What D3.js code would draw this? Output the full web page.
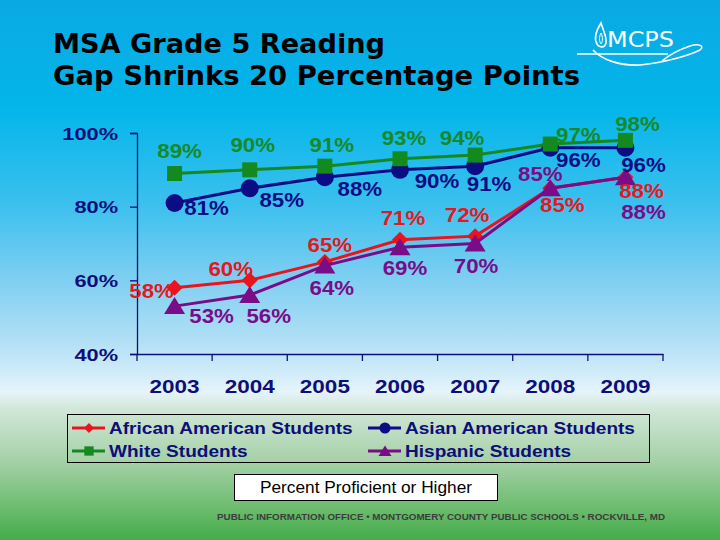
<!DOCTYPE html>
<html>
<head>
<meta charset="utf-8">
<script src="https://cdn.jsdelivr.net/npm/d3@7/dist/d3.min.js"></script>
<style>
  html, body { margin: 0; padding: 0; background: #fff; }
  svg { display: block; }
</style>
</head>
<body>
<svg id="chart" width="720" height="540"></svg>
<script>
// ---------------- DATA ----------------
const years = ["2003", "2004", "2005", "2006", "2007", "2008", "2009"];
const africanAmerican = [58, 60, 65, 71, 72, 85, 88];
const asianAmerican   = [81, 85, 88, 90, 91, 96, 96];
const whiteStudents   = [89, 90, 91, 93, 94, 97, 98];
const hispanic        = [53, 56, 64, 69, 70, 85, 88];
const yTickValues = [40, 60, 80, 100];
const seriesNames = ["African American Students", "Asian American Students", "White Students", "Hispanic Students"];
const titleLines = ["MSA Grade 5 Reading", "Gap Shrinks 20 Percentage Points"];
const noteText = "Percent Proficient or Higher";
const footerText = "PUBLIC INFORMATION OFFICE \u2022 MONTGOMERY COUNTY PUBLIC SCHOOLS \u2022 ROCKVILLE, MD";

// ---------------- LAYOUT / STYLE ----------------
const W = 720, H = 540;
const plot = { left: 137, right: 663, top: 133, bottom: 354 };
const navy = "#0e0e78";
const styles = [
  { color: "#e8141e", label: "#e41820", symbol: "diamond" },
  { color: "#0c0c84", label: "#0c0c84", symbol: "circle" },
  { color: "#148a1e", label: "#168a26", symbol: "square" },
  { color: "#7a0c88", label: "#7a0c88", symbol: "triangle" }
];
// per-point label offsets (dx, dy of baseline-centre relative to the marker)
const labelOffsets = [
  [[-23, 10], [-19, -4], [5, -10], [3, -15], [-8, -14], [12, 24], [16, 21]],
  [[32, 12], [32, 19], [35, 19], [37, 18], [14, 25], [28, 19], [18, 24]],
  [[5, -16], [3, -18], [7, -14], [4, -14], [-13, -10], [28, -2], [12, -9]],
  [[37, 17], [19, 28], [7, 29], [5, 28], [1, 29], [-10, -7], [18, 42]]
];

const svg = d3.select("#chart");

// background gradient
const defs = svg.append("defs");
const grad = defs.append("linearGradient").attr("id", "bg")
  .attr("x1", 0).attr("y1", 0).attr("x2", 0).attr("y2", 1);
[[0, "#0aa9e4"], [0.2, "#03b6ea"], [0.38, "#3cc0ee"], [0.52, "#80cff2"],
 [0.64, "#b6e1f6"], [0.7, "#d6eefa"], [0.725, "#e6f4fb"], [0.76, "#d0e6d6"],
 [0.86, "#a2cfa4"], [0.94, "#6cbc6e"], [1, "#45ab4a"]]
  .forEach(([o, c]) => grad.append("stop").attr("offset", o).attr("stop-color", c));
svg.append("rect").attr("width", W).attr("height", H).attr("fill", "url(#bg)");

// helper to stretch text horizontally
function stretch(sel, factor) {
  sel.each(function () {
    const len = this.getComputedTextLength();
    d3.select(this).attr("textLength", len * factor).attr("lengthAdjust", "spacingAndGlyphs");
  });
}

// title
svg.append("text").attr("x", 53).attr("y", 53)
  .attr("font-family", "DejaVu Sans, Verdana, sans-serif").attr("font-weight", "bold")
  .attr("font-size", 27).attr("fill", "#000")
  .attr("textLength", 332).attr("lengthAdjust", "spacingAndGlyphs")
  .text(titleLines[0]);
svg.append("text").attr("x", 53).attr("y", 85)
  .attr("font-family", "DejaVu Sans, Verdana, sans-serif").attr("font-weight", "bold")
  .attr("font-size", 27).attr("fill", "#000")
  .attr("textLength", 527).attr("lengthAdjust", "spacingAndGlyphs")
  .text(titleLines[1]);

// logo
const logo = svg.append("g").attr("fill", "none").attr("stroke", "#fff").attr("stroke-width", 1.6);
logo.append("path").attr("d", "M601,23 C596,31 594,39 597,44 C599,48 605,48 606,43 C607,37 603,30 601,23 Z");
logo.append("path").attr("d", "M601,33 C599,37 599,41 601,44 C603,41 603,37 601,33 Z").attr("stroke-width", 1);
logo.append("path").attr("d", "M577,54 L668,54");
logo.append("path").attr("d", "M593,50 C602,60 620,66 640,65 C662,63 688,56 700,50 C705,46 699,43 690,46 C678,50 668,56 662,61");
svg.append("text").attr("x", 607).attr("y", 47)
  .attr("font-family", "DejaVu Sans, Verdana, sans-serif").attr("font-size", 21)
  .attr("fill", "#fff").attr("textLength", 67).attr("lengthAdjust", "spacingAndGlyphs")
  .text("MCPS");

// scales
const x = d3.scaleBand().domain(years).range([plot.left, plot.right]).padding(0);
const cx = d => x(d) + x.bandwidth() / 2;
const y = d3.scaleLinear().domain([40, 100]).range([plot.bottom, plot.top]);

// y axis
const yAxis = svg.append("g").attr("transform", `translate(${plot.left},0)`)
  .call(d3.axisLeft(y).tickValues(yTickValues).tickFormat(d => d + "%").tickSize(7).tickPadding(12));
yAxis.select(".domain").attr("stroke", navy).attr("stroke-width", 1.3);
yAxis.selectAll(".tick line").attr("stroke", navy).attr("stroke-width", 1.3);
yAxis.selectAll(".tick text").attr("fill", navy)
  .attr("font-family", "Liberation Sans, Arial, sans-serif").attr("font-weight", "bold")
  .attr("font-size", 17).attr("dy", "0.36em").call(stretch, 1.28);

// x axis: labels via axis, boundary ticks from band scale
const xAxis = svg.append("g").attr("transform", `translate(0,${plot.bottom})`)
  .call(d3.axisBottom(x).tickSize(0).tickPadding(0));
xAxis.select(".domain").attr("stroke", navy).attr("stroke-width", 1.3);
xAxis.selectAll(".tick text").attr("fill", navy)
  .attr("font-family", "Liberation Sans, Arial, sans-serif").attr("font-weight", "bold")
  .attr("font-size", 18).attr("y", 39).attr("dy", 0).call(stretch, 1.25);
const bounds = years.map(d => x(d)).concat([plot.right]);
xAxis.selectAll(".bound").data(bounds).enter().append("line").attr("class", "bound")
  .attr("x1", d => d).attr("x2", d => d).attr("y1", 0).attr("y2", 7)
  .attr("stroke", navy).attr("stroke-width", 1.3);

// symbols
function symbolPath(type) {
  switch (type) {
    case "diamond": return "M0,-8 L8,0 L0,8 L-8,0 Z";
    case "circle": return d3.symbol(d3.symbolCircle, 254)();
    case "square": return "M-7.5,-7.5 H7.5 V7.5 H-7.5 Z";
    case "triangle": return "M0,-9 L10.5,8 L-10.5,8 Z";
  }
}

const allSeries = [africanAmerican, asianAmerican, whiteStudents, hispanic];
const line = d3.line().x((d, i) => cx(years[i])).y(d => y(d));

const marks = svg.append("g");
allSeries.forEach((vals, si) => {
  const g = marks.append("g");
  g.append("path").datum(vals).attr("d", line)
    .attr("fill", "none").attr("stroke", styles[si].color).attr("stroke-width", 3);
  g.selectAll("path.m").data(vals).enter().append("path").attr("class", "m")
    .attr("d", symbolPath(styles[si].symbol))
    .attr("transform", (d, i) => `translate(${cx(years[i])},${y(d)})`)
    .attr("fill", styles[si].color);
});

// data labels
const labels = svg.append("g");
allSeries.forEach((vals, si) => {
  labels.selectAll(null).data(vals).enter().append("text")
    .attr("x", (d, i) => cx(years[i]) + labelOffsets[si][i][0])
    .attr("y", (d, i) => y(d) + labelOffsets[si][i][1])
    .attr("text-anchor", "middle")
    .attr("font-family", "Liberation Sans, Arial, sans-serif").attr("font-weight", "bold")
    .attr("font-size", 21).attr("fill", styles[si].label)
    .text(d => d + "%").call(stretch, 1.06);
});

// legend
const legend = svg.append("g");
legend.append("rect").attr("x", 67.5).attr("y", 414.5).attr("width", 582).attr("height", 48)
  .attr("fill", "none").attr("stroke", "#000").attr("stroke-width", 1);
const legendPos = [
  { lx: 72, ly: 428 }, { lx: 368, ly: 428 },
  { lx: 72, ly: 451 }, { lx: 368, ly: 451 }
];
seriesNames.forEach((name, si) => {
  const p = legendPos[si];
  const g = legend.append("g");
  g.append("line").attr("x1", p.lx).attr("x2", p.lx + 33).attr("y1", p.ly).attr("y2", p.ly)
    .attr("stroke", styles[si].color).attr("stroke-width", 3);
  g.append("path").attr("d", symbolPath(styles[si].symbol))
    .attr("transform", `translate(${p.lx + 17},${p.ly}) scale(0.62)`)
    .attr("fill", styles[si].color);
  g.append("text").attr("x", p.lx + 37).attr("y", p.ly + 6)
    .attr("font-family", "Liberation Sans, Arial, sans-serif").attr("font-weight", "bold")
    .attr("font-size", 17).attr("fill", navy)
    .text(name).call(stretch, 1.12);
});

// note box
svg.append("rect").attr("x", 234.5).attr("y", 474.5).attr("width", 263).attr("height", 26)
  .attr("fill", "#fff").attr("stroke", "#000").attr("stroke-width", 1);
svg.append("text").attr("x", 366).attr("y", 493).attr("text-anchor", "middle")
  .attr("font-family", "Liberation Sans, Arial, sans-serif").attr("font-size", 16)
  .attr("fill", "#000").attr("textLength", 212).attr("lengthAdjust", "spacingAndGlyphs")
  .text(noteText);

// footer
svg.append("text").attr("x", 217).attr("y", 520)
  .attr("font-family", "Liberation Sans, Arial, sans-serif").attr("font-weight", "bold")
  .attr("font-size", 9.5).attr("fill", "#3c3c3c")
  .attr("textLength", 448).attr("lengthAdjust", "spacingAndGlyphs")
  .text(footerText);
</script>
</body>
</html>
